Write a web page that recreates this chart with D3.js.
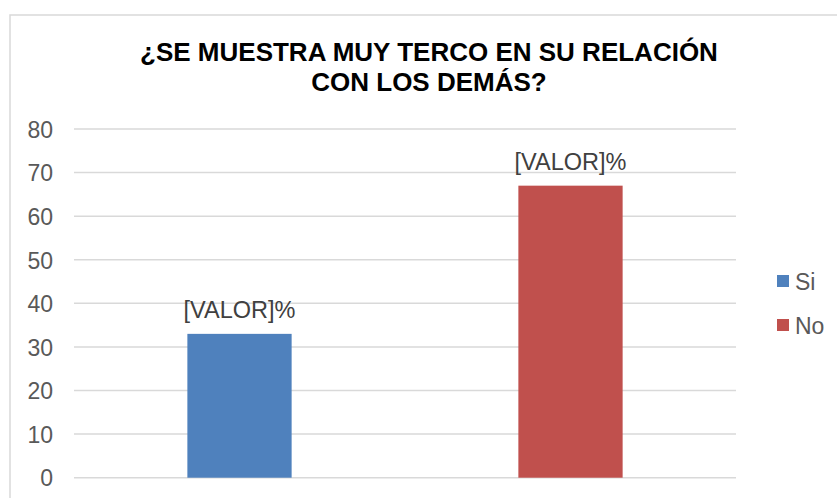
<!DOCTYPE html>
<html>
<head>
<meta charset="utf-8">
<script src="https://cdn.jsdelivr.net/npm/d3@7"></script>
<style>
  html, body { margin: 0; padding: 0; background: #ffffff; }
  svg { display: block; }
</style>
</head>
<body>
<script>
const titleLines = ["¿SE MUESTRA MUY TERCO EN SU RELACIÓN", "CON LOS DEMÁS?"];
const categories = ["Si", "No"];
const values = [33, 67];
const colors = ["#4F81BD", "#C0504D"];
const labelText = "[VALOR]%";
const yTicks = [0, 10, 20, 30, 40, 50, 60, 70, 80];

const W = 837, H = 498;
const svg = d3.select("body").append("svg").attr("width", W).attr("height", H);
const font = "'Liberation Sans', Arial, sans-serif";

// outer chart border (extends past the right/bottom edges)
svg.append("rect")
  .attr("x", 10).attr("y", 15)
  .attr("width", 900).attr("height", 600)
  .attr("fill", "#ffffff")
  .attr("stroke", "#d9d9d9").attr("stroke-width", 1.5);

// title
svg.append("text")
  .attr("font-family", font).attr("font-weight", "bold").attr("font-size", 26)
  .attr("fill", "#000").attr("text-anchor", "middle")
  .selectAll("tspan").data(titleLines).join("tspan")
  .attr("x", 429).attr("y", (d, i) => 61 + i * 30)
  .text(d => d);

const plotLeft = 74, plotRight = 736, plotTop = 129, plotBottom = 477.7;

const y = d3.scaleLinear().domain([0, 80]).range([plotBottom, plotTop]);
const x = d3.scaleBand().domain(categories).range([plotLeft, plotRight])
  .paddingInner(0.685).paddingOuter(0.3425);

// gridlines
svg.append("g").selectAll("line").data(yTicks).join("line")
  .attr("x1", plotLeft).attr("x2", plotRight)
  .attr("y1", d => y(d)).attr("y2", d => y(d))
  .attr("stroke", "#d9d9d9").attr("stroke-width", 1.5);

// y axis
const yAxis = svg.append("g")
  .attr("transform", `translate(${plotLeft - 21},0)`)
  .call(d3.axisLeft(y).tickValues(yTicks).tickSize(0).tickPadding(0).tickFormat(d3.format("d")));
yAxis.select(".domain").remove();
yAxis.selectAll("text")
  .attr("font-family", font).attr("font-size", 23).attr("fill", "#595959")
  .attr("dy", "0.36em");

// bars
svg.append("g").selectAll("rect").data(values).join("rect")
  .attr("x", (d, i) => x(categories[i]))
  .attr("width", x.bandwidth())
  .attr("y", d => y(d))
  .attr("height", d => y(0) - y(d))
  .attr("fill", (d, i) => colors[i]);

// data labels
svg.append("g").selectAll("text").data(values).join("text")
  .attr("x", (d, i) => x(categories[i]) + x.bandwidth() / 2)
  .attr("y", d => y(d) - 16)
  .attr("text-anchor", "middle")
  .attr("font-family", font).attr("font-size", 23.5).attr("fill", "#404040")
  .text(labelText);

// legend
const legend = svg.append("g").selectAll("g").data(categories).join("g")
  .attr("transform", (d, i) => `translate(777,${275 + i * 44})`);
legend.append("rect")
  .attr("width", 12).attr("height", 12)
  .attr("fill", (d, i) => colors[i]);
legend.append("text")
  .attr("x", 18).attr("y", 15)
  .attr("font-family", font).attr("font-size", 23).attr("fill", "#595959")
  .text(d => d);
</script>
</body>
</html>
